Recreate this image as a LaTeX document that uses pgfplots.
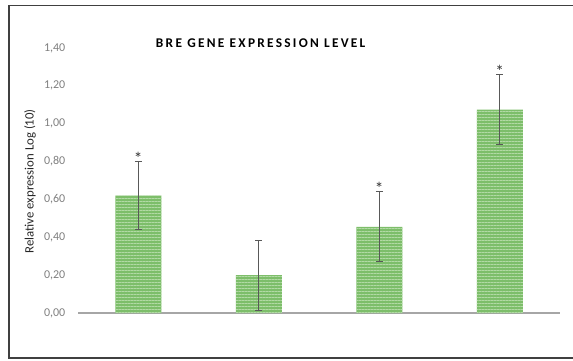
\documentclass[border=0pt]{standalone}
\usepackage{fontspec}
\setmainfont{Carlito}
\newfontfamily\titlefont[LetterSpace=17]{Carlito}
\usepackage{pgfplots}
\pgfplotsset{compat=1.18}
\usetikzlibrary{patterns.meta}
\definecolor{barlight}{HTML}{B2DAA5}
\definecolor{bargreen}{HTML}{7DBE6A}
\definecolor{axgray}{HTML}{A6A6A6}
\definecolor{tickgray}{HTML}{7F7F7F}
\definecolor{errgray}{HTML}{595959}
\definecolor{framegray}{HTML}{404040}
\begin{document}
\begin{tikzpicture}
\path[use as bounding box] (0,0) rectangle (429.75pt,270pt);
\draw[framegray, line width=1.1pt] (6.9pt,1.5pt) rectangle (440pt,266pt);
\node[font=\titlefont\bfseries\fontsize{10}{12}\selectfont] at (195.5pt,237.7pt) {BRE GENE EXPRESSION LEVEL};
\node[rotate=90, font=\fontsize{9.6}{11}\selectfont, text=black!85] at (22.5pt,134pt) {Relative expression Log (10)};
\begin{axis}[
  at={(58.5pt,35.25pt)}, anchor=south west,
  scale only axis, width=361.5pt, height=198.75pt,
  xmin=-0.5, xmax=3.5, ymin=0, ymax=1.4,
  xtick=\empty,
  ytick={0,0.2,...,1.41},
  axis x line*=bottom, axis y line*=left,
  y axis line style={draw=none},
  x axis line style={draw=axgray, line width=1.1pt, -},
  major tick length=0pt,
  tick style={draw=none},
  yticklabel style={font=\fontsize{9}{10}\selectfont, text=tickgray, xshift=-6pt},
  /pgf/number format/.cd, use comma, fixed, fixed zerofill, precision=2, assume math mode=true,
  /pgfplots/.cd,
  clip=false,
]
\addplot[ybar, bar width=34.5pt, draw=none, fill=bargreen,
  postaction={pattern={Lines[angle=0, distance=2.25pt, line width=0.7pt]}, pattern color=barlight},
  error bars/.cd, y dir=both, y explicit,
  error bar style={errgray, line width=0.6pt},
  error mark options={errgray, line width=0.6pt, mark size=2.6pt, rotate=90}]
coordinates {
  (0,0.62) +- (0,0.18)
  (1,0.20) +- (0,0.185)
  (2,0.455) +- (0,0.185)
  (3,1.075) +- (0,0.183)
};
\addplot[only marks, mark=none, point meta=explicit symbolic,
  nodes near coords, nodes near coords style={anchor=south, font=\fontsize{13}{14}\selectfont, text=black!80, inner sep=0pt, yshift=-2.5pt}]
coordinates {
  (0,0.80) [*]
  (2,0.64) [*]
  (3,1.258) [*]
};
\end{axis}
\end{tikzpicture}
\end{document}
